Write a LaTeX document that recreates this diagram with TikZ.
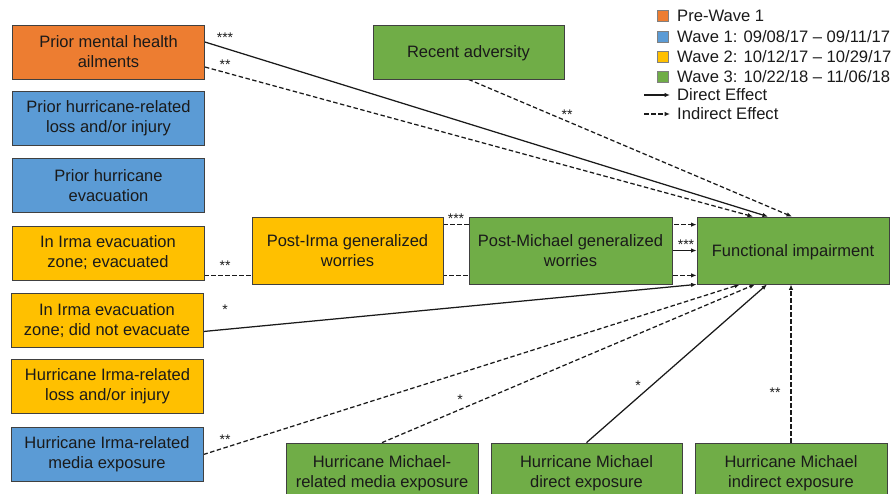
\documentclass[tikz,border=0pt]{standalone}
\usepackage{fontspec}
\setmainfont{Liberation Sans}
\usetikzlibrary{arrows.meta,calc}
\pgfdeclarelayer{bg}
\pgfsetlayers{bg,main}
\definecolor{cOrange}{HTML}{ED7D31}
\definecolor{cBlue}{HTML}{5B9BD5}
\definecolor{cYellow}{HTML}{FFC000}
\definecolor{cGreen}{HTML}{70AD47}
\definecolor{cBorder}{HTML}{404040}
\definecolor{cText}{HTML}{1A1A1A}
\tikzset{
  box/.style={draw=cBorder, line width=0.8pt, minimum width=192pt, minimum height=54pt,
    align=center, inner sep=2pt, text=cText, font=\fontsize{16.5}{20}\selectfont},
  dir/.style={draw=cText, line width=1.25pt, -{Latex[length=5.5pt,width=4.5pt]}},
  ind/.style={draw=cText, line width=1.25pt, dash pattern=on 4.5pt off 2.5pt, -{Latex[length=5.5pt,width=4.5pt]}},
  sig/.style={inner sep=0pt, text=cText, font=\fontsize{14}{15}\selectfont},
  legsq/.style={draw=gray, line width=0.6pt, minimum width=11pt, minimum height=11pt, inner sep=0pt},
  legtxt/.style={anchor=west, inner sep=0pt, text=cText, font=\fontsize{16.6}{18}\selectfont},
}
\begin{document}
\begin{tikzpicture}[x=1pt,y=-1pt]
\useasboundingbox (0,0) rectangle (893,493);
\clip (0,0) rectangle (893,493);

% left column
\node[box, fill=cOrange] (pmh) at (108.5,52) {Prior mental health\\ailments};
\node[box, fill=cBlue] (phl) at (108.5,118.5) {Prior hurricane-related\\loss and/or injury};
\node[box, fill=cBlue] (phe) at (108.5,185.5) {Prior hurricane\\evacuation};
\node[box, fill=cYellow] (evac) at (108,253) {In Irma evacuation\\zone; evacuated};
\node[box, fill=cYellow] (noevac) at (107,320.5) {In Irma evacuation\\zone; did not evacuate};
\node[box, fill=cYellow] (irl) at (107.5,386.5) {Hurricane Irma-related\\loss and/or injury};
\node[box, fill=cBlue] (ime) at (107,454.5) {Hurricane Irma-related\\media exposure};

% middle / right
\node[box, fill=cGreen, minimum width=191pt, text depth=0pt] (ra) at (468.5,52) {Recent adversity};
\node[box, fill=cYellow, minimum width=191pt, minimum height=67pt] (piw) at (347.5,250.5) {Post-Irma generalized\\worries};
\node[box, fill=cGreen, minimum width=203pt, minimum height=67pt] (pmw) at (570.5,250.5) {Post-Michael generalized\\worries};
\node[box, fill=cGreen, minimum width=192pt, minimum height=67pt, text depth=0pt] (fi) at (793,250.5) {Functional impairment};

% bottom row
\node[box, fill=cGreen, minimum height=60pt] (mme) at (382,473) {Hurricane Michael-\\related media exposure};
\node[box, fill=cGreen, minimum width=191pt, minimum height=60pt] (mde) at (586.5,473) {Hurricane Michael\\direct exposure};
\node[box, fill=cGreen, minimum height=60pt] (mie) at (791,473) {Hurricane Michael\\indirect exposure};

% connectors
\coordinate (lowrow) at ([yshift=9pt]fi.south west);
\begin{pgfonlayer}{bg}
\draw[dir] ([yshift=10pt]pmh.east) -- ([xshift=-25pt]fi.north);
\draw[ind] ([yshift=-15pt]pmh.east) -- ([xshift=-40pt]fi.north);
\draw[ind] (ra.south) -- ([xshift=-1pt]fi.north);
\draw[ind] ([yshift=-8pt]piw.north east) -- ([yshift=-8pt]fi.north west);
\draw[dir] (pmw.east) -- (fi.west);
\draw[ind] (evac.east |- lowrow) -- (lowrow);
\draw[dir] ([yshift=-11pt]noevac.east) -- (fi.south west);
\draw[ind] (ime.east) -- ([xshift=-53pt]fi.south);
\draw[ind] (mme.north) -- ([xshift=-38pt]fi.south);
\draw[dir] (mde.north) -- ([xshift=-26pt]fi.south);
\draw[ind] (mie.north) -- (mie.north |- fi.south);
\end{pgfonlayer}

% significance labels
\node[sig] (s1) at (225,38) {***};
\node[sig] (s2) at (225,65) {**};
\node[sig] (s3) at (567,115) {**};
\node[sig] (s4) at (456,219) {***};
\node[sig] (s5) at (686,245) {***};
\node[sig] (s6) at (225,266) {**};
\node[sig] (s7) at (225,310) {*};
\node[sig] (s8) at (225,440) {**};
\node[sig] (s9) at (460,400) {*};
\node[sig] (s10) at (638,386) {*};
\node[sig] (s11) at (775,393) {**};

% legend
\node[legsq, fill=cOrange] (q1) at (662.5,16) {};
\node[legtxt] (t1) at (677,16) {Pre-Wave 1};
\node[legsq, fill=cBlue] (q2) at (662.5,37) {};
\node[legtxt] (t2) at (677,37) {Wave 1: 09/08/17 – 09/11/17};
\node[legsq, fill=cYellow] (q3) at (662.5,57) {};
\node[legtxt] (t3) at (677,57) {Wave 2: 10/12/17 – 10/29/17};
\node[legsq, fill=cGreen] (q4) at (662.5,77) {};
\node[legtxt] (t4) at (677,77) {Wave 3: 10/22/18 – 11/06/18};
\coordinate (a1s) at (644,95);
\coordinate (a1e) at (670,95);
\draw[dir] (a1s) -- (a1e);
\node[legtxt] (t5) at (677,95) {Direct Effect};
\coordinate (a2s) at (644,114);
\coordinate (a2e) at (670,114);
\draw[ind] (a2s) -- (a2e);
\node[legtxt] (t6) at (677,114) {Indirect Effect};
\end{tikzpicture}
\end{document}
